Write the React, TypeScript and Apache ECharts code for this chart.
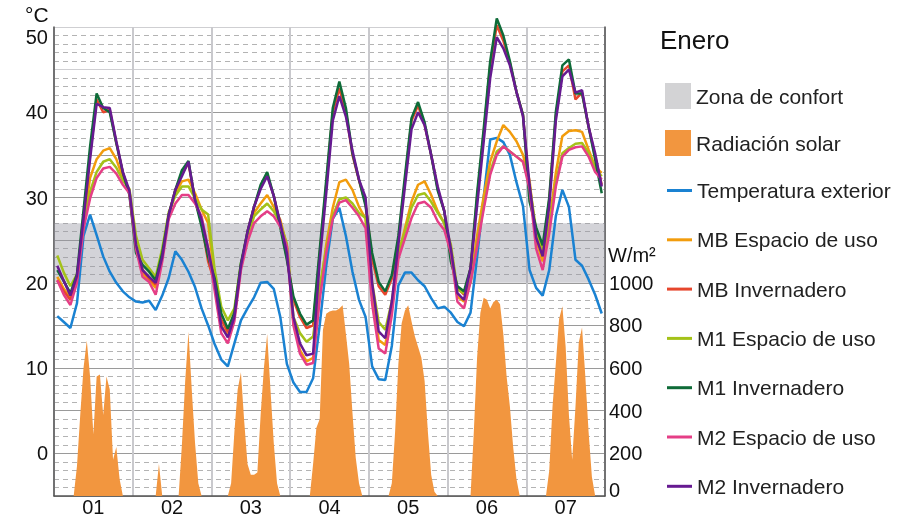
import React, { useEffect, useRef } from 'react';
import * as echarts from 'echarts';

const FONT = "'Liberation Sans', Arial, sans-serif";

const dayLabels = ['01', '02', '03', '04', '05', '06', '07'];
// sampling positions (hour of the week) of the temperature series: 1, 3, 5 ... 167
const sampleHours = Array.from({ length: 84 }, (_, i) => 1 + 2 * i);
// hourly positions of the solar radiation series: 0 ... 168
const radiationHours = Array.from({ length: 169 }, (_, i) => i);

const comfortMin = 20;
const comfortMax = 27;

const tempExterior = [
  16.1, 15.4, 14.7, 17.6, 25.5, 28.0, 25.6, 23.1, 21.3, 20.0, 19.0, 18.3,
  17.8, 17.7, 17.9, 16.8, 18.5, 20.6, 23.7, 22.7, 21.3, 19.5, 17.0, 15.0,
  12.8, 11.0, 10.2, 12.9, 15.6, 17.0, 18.3, 20.0, 20.1, 19.3, 16.0, 10.5,
  8.3, 7.2, 7.2, 8.8, 15.0, 22.0, 27.5, 28.8, 25.5, 21.3, 18.0, 16.0,
  10.2, 8.7, 8.6, 12.6, 19.7, 21.2, 21.2, 20.3, 19.6, 18.2, 17.0, 17.2,
  16.5, 15.4, 14.9, 16.5, 23.0, 30.0, 36.8, 37.0, 36.5, 35.0, 31.8, 29.0,
  21.5, 19.4, 18.5, 21.5, 27.8, 30.9, 28.9, 22.7, 22.0, 20.4, 18.6, 16.4,
];

const mbEspacio = [
  20.7, 19.3, 18.3, 20.5, 27.0, 32.3, 34.5, 35.5, 35.8, 34.5, 32.3, 30.8,
  24.2, 21.1, 20.3, 19.4, 23.3, 28.0, 30.5, 31.9, 32.1, 30.5, 28.6, 27.0,
  20.5, 15.0, 13.8, 16.0, 22.0, 25.6, 28.2, 29.3, 30.3, 28.9, 27.4, 24.3,
  15.3, 12.1, 10.8, 11.2, 18.5, 24.5, 28.8, 31.8, 32.1, 30.9, 28.9, 27.5,
  18.5, 13.3, 12.7, 17.0, 23.3, 26.4, 29.5, 31.5, 31.9, 30.3, 28.4, 27.0,
  23.5, 18.4, 17.8, 20.1, 25.5, 30.1, 34.2, 36.6, 38.5, 37.7, 36.6, 35.0,
  32.0, 25.0, 22.5, 27.0, 32.9, 37.2, 37.8, 37.9, 37.7, 35.6, 33.6, 32.9,
];

const mbInvernadero = [
  20.3, 19.0, 18.0, 20.5, 27.8, 35.0, 41.5, 40.0, 40.3, 36.4, 32.9, 30.5,
  24.0, 21.5, 20.5, 19.8, 23.2, 28.0, 30.9, 32.8, 34.0, 29.7, 27.0, 22.5,
  20.0, 15.7, 14.2, 16.3, 22.0, 26.0, 28.9, 31.2, 32.7, 30.2, 26.8, 23.0,
  18.0, 16.0, 14.7, 15.0, 23.3, 31.5, 40.0, 42.8, 40.0, 35.0, 32.0, 29.3,
  22.8, 19.6, 18.6, 20.5, 25.0, 32.0, 39.0, 40.8, 38.5, 35.0, 31.0, 28.4,
  23.0, 19.4, 18.6, 21.7, 30.0, 37.5, 45.5, 50.2, 48.4, 45.8, 42.4, 39.7,
  30.5, 25.5, 23.5, 29.7, 39.5, 44.8, 45.5, 41.5, 42.3, 38.3, 34.8, 31.5,
];

const m1Espacio = [
  23.2, 21.2, 19.6, 21.0, 26.6, 30.7, 33.0, 34.2, 34.5, 33.5, 32.0, 31.0,
  25.5, 22.7, 21.7, 20.7, 24.0, 28.3, 30.2, 31.3, 31.3, 29.9, 28.6, 28.0,
  21.5, 17.2, 15.6, 17.0, 22.3, 25.3, 27.8, 28.6, 29.3, 28.4, 27.0, 24.6,
  16.0, 14.1, 13.1, 13.7, 19.5, 24.0, 27.8, 29.8, 30.0, 29.3, 28.2, 27.6,
  20.0, 15.4, 14.5, 17.8, 23.5, 26.0, 28.8, 30.3, 30.5, 29.5, 28.2, 27.0,
  24.5, 19.2, 18.8, 20.1, 24.5, 29.0, 33.0, 35.4, 36.0, 35.4, 34.8, 34.2,
  31.5, 26.2, 23.9, 26.5, 31.7, 35.2, 35.8, 36.3, 36.4, 35.2, 33.4, 32.5,
];

const m1Invernadero = [
  21.5, 20.2, 18.8, 21.0, 28.5, 36.0, 42.2, 40.5, 40.0, 36.4, 32.9, 30.3,
  23.5, 22.1, 21.3, 20.3, 23.5, 28.0, 30.9, 33.2, 34.3, 29.7, 26.6, 23.0,
  20.5, 16.4, 14.6, 16.5, 22.3, 26.0, 28.9, 31.5, 33.0, 30.2, 26.5, 22.7,
  18.4, 16.4, 15.1, 15.6, 23.8, 32.0, 40.5, 43.6, 40.5, 35.2, 32.1, 29.0,
  23.5, 20.1, 19.0, 20.9, 25.5, 32.5, 39.3, 41.2, 38.8, 35.0, 30.8, 28.4,
  22.5, 19.6, 19.0, 21.7, 30.5, 38.0, 46.0, 51.0, 49.0, 46.0, 42.4, 39.7,
  29.5, 26.5, 24.4, 30.0, 40.0, 45.5, 46.2, 42.2, 42.2, 38.3, 34.5, 30.5,
];

const m2Espacio = [
  20.3, 18.6, 17.4, 20.0, 26.3, 29.9, 32.3, 33.4, 33.6, 32.8, 31.5, 30.5,
  24.0, 20.7, 20.1, 18.6, 22.5, 27.5, 29.3, 30.3, 30.3, 29.3, 27.8, 24.0,
  19.0, 14.1, 12.9, 15.5, 21.5, 24.8, 27.0, 27.8, 28.4, 27.8, 26.6, 24.3,
  15.0, 11.7, 10.4, 10.6, 18.0, 23.5, 27.5, 29.4, 29.7, 28.8, 27.8, 26.4,
  17.5, 12.3, 11.7, 16.2, 22.8, 25.2, 27.6, 29.3, 29.5, 28.8, 27.2, 26.2,
  23.5, 17.8, 17.0, 20.1, 24.2, 28.6, 32.7, 35.0, 36.0, 35.4, 34.8, 34.2,
  31.0, 24.0, 21.5, 25.8, 31.3, 34.8, 35.6, 35.9, 36.0, 34.8, 33.0, 32.1,
];

const m2Invernadero = [
  22.0, 20.2, 18.5, 20.8, 27.5, 34.5, 41.0, 40.6, 40.5, 36.6, 33.0, 30.8,
  24.5, 21.5, 20.7, 20.0, 23.0, 28.0, 30.9, 32.5, 34.2, 29.7, 27.4, 24.0,
  20.0, 14.9, 13.6, 16.0, 22.0, 26.0, 28.9, 31.0, 32.5, 30.2, 27.0, 23.5,
  16.0, 12.9, 11.5, 11.7, 22.5, 30.5, 39.0, 41.9, 39.5, 35.5, 32.1, 30.0,
  20.0, 14.3, 13.5, 17.8, 24.5, 31.3, 38.0, 40.0, 38.5, 35.0, 31.3, 28.4,
  24.0, 18.8, 18.0, 21.7, 29.0, 36.5, 44.0, 48.8, 47.5, 45.5, 42.4, 39.5,
  31.5, 25.3, 23.1, 29.0, 39.0, 44.2, 45.0, 42.3, 42.6, 38.3, 35.2, 31.3,
];

// W/m², hourly, hour 0 ... 168
const radiacionSolar = [
  0, 0, 0, 0, 0, 0, 0, 140, 380, 600, 730, 560, 290, 560, 570, 380, 560, 500, 170, 230, 80, 0, 0, 0,
  0, 0, 0, 0, 0, 0, 0, 0, 150, 0, 0, 0, 0, 0, 0, 240, 540, 770, 500, 250, 60, 0, 0, 0,
  0, 0, 0, 0, 0, 0, 60, 300, 500, 580, 350, 150, 100, 100, 110, 380, 600, 760, 500, 250, 60, 0, 0, 0,
  0, 0, 0, 0, 0, 0, 0, 150, 320, 360, 780, 855, 865, 870, 870, 880, 895, 760, 620, 390, 180, 60, 0, 0,
  0, 0, 0, 0, 0, 0, 0, 60, 300, 620, 810, 870, 895, 820, 750, 700, 650, 540, 300, 100, 20, 0, 0, 0,
  0, 0, 0, 0, 0, 0, 0, 0, 300, 650, 860, 930, 920, 880, 910, 920, 900, 760, 560, 420, 230, 80, 0, 0,
  0, 0, 0, 0, 0, 0, 0, 120, 420, 620, 830, 890, 700, 380, 170, 420, 720, 790, 560, 300, 90, 0, 0, 0, 0,
];

const lineDefs = [
  { name: 'Temperatura exterior', color: '#1a82d2', values: tempExterior },
  { name: 'MB Espacio de uso', color: '#f29c0c', values: mbEspacio },
  { name: 'MB Invernadero', color: '#e6462d', values: mbInvernadero },
  { name: 'M1 Espacio de uso', color: '#a4c218', values: m1Espacio },
  { name: 'M1 Invernadero', color: '#0e6b38', values: m1Invernadero },
  { name: 'M2 Espacio de uso', color: '#e53e86', values: m2Espacio },
  { name: 'M2 Invernadero', color: '#661a91', values: m2Invernadero },
];

export default function App() {
  const ref = useRef<HTMLDivElement>(null);

  useEffect(() => {
    const chart = echarts.init(ref.current!, null, { renderer: 'svg' });

    const lines = lineDefs.map((d) => ({
      name: d.name,
      type: 'line',
      data: d.values.map((v, i) => [sampleHours[i], v]),
      showSymbol: false,
      symbol: 'none',
      clip: false,
      color: d.color,
      lineStyle: { color: d.color, width: 2.5 },
      xAxisIndex: 0,
      yAxisIndex: 0,
      z: 4,
    }));

    const splitColors = ['#9a9a9a', '#9a9a9a', '#9a9a9a', '#9a9a9a', '#9a9a9a', '#9a9a9a', '#9a9a9a', '#9a9a9a', '#9a9a9a', '#9a9a9a', '#cfcfd2', '#cfcfd2'];

    chart.setOption({
      animation: false,
      textStyle: { fontFamily: FONT },
      title: {
        text: 'Enero',
        left: 655,
        top: 22,
        textStyle: { fontSize: 26, fontWeight: 'normal', color: '#111', fontFamily: FONT },
      },
      grid: { left: 54, right: 298, top: 27, bottom: 26, containLabel: false },
      legend: [
        {
          data: ['Zona de confort', 'Radiación solar'],
          orient: 'vertical',
          left: 660,
          top: 78,
          icon: 'rect',
          itemWidth: 26,
          itemHeight: 26,
          itemGap: 21,
          selectedMode: false,
          textStyle: { fontSize: 21, color: '#222', fontFamily: FONT },
        },
        {
          data: lineDefs.map((d) => d.name),
          orient: 'vertical',
          left: 662,
          top: 175,
          icon: 'rect',
          itemWidth: 25,
          itemHeight: 3,
          itemGap: 28.3,
          selectedMode: false,
          textStyle: { fontSize: 21, color: '#222', fontFamily: FONT },
        },
      ],
      xAxis: [
        {
          type: 'value',
          min: 0,
          max: 168,
          interval: 24,
          position: 'bottom',
          axisLine: { show: true, onZero: false, lineStyle: { color: '#555', width: 1.5 } },
          axisTick: { show: false },
          axisLabel: { show: false },
          splitLine: { show: true, lineStyle: { color: '#c9c9cd', width: 2 } },
        },
        {
          type: 'category',
          data: dayLabels,
          position: 'bottom',
          boundaryGap: true,
          axisLine: { show: false, onZero: false },
          axisTick: { show: false },
          splitLine: { show: false },
          axisLabel: { fontSize: 20, color: '#111', margin: 1, fontFamily: FONT },
        },
      ],
      yAxis: [
        {
          type: 'value',
          min: -5,
          max: 50,
          interval: 5,
          position: 'left',
          axisLine: { show: true, onZero: false, lineStyle: { color: '#555', width: 1.5 } },
          axisTick: { show: false },
          axisLabel: {
            margin: 6,
            fontSize: 20,
            color: '#111',
            fontFamily: FONT,
            formatter: (v: number) => (v < 50 && v % 10 === 0 ? String(v) : ''),
          },
          splitLine: { show: true, lineStyle: { color: splitColors, width: 1 } },
          minorTick: { show: false, splitNumber: 5 },
          minorSplitLine: { show: true, lineStyle: { color: '#b3b3b3', width: 1, type: [5, 4] } },
        },
        {
          type: 'value',
          min: 0,
          max: 2200,
          interval: 200,
          position: 'right',
          axisLine: { show: true, onZero: false, lineStyle: { color: '#555', width: 1.5 } },
          axisTick: { show: false },
          splitLine: { show: false },
          axisLabel: {
            margin: 4,
            fontSize: 20,
            color: '#111',
            fontFamily: FONT,
            formatter: (v: number) => (v === 0 ? '{bot|0}' : v <= 1000 ? String(v) : ''),
            rich: { bot: { fontSize: 20, color: '#111', fontFamily: FONT, padding: [0, 0, 12, 0] } },
          },
        },
      ],
      graphic: [
        {
          type: 'text',
          left: 25,
          top: 4,
          style: { text: '°C', fontSize: 21, fill: '#111', fontFamily: FONT },
        },
        {
          type: 'text',
          x: 48,
          y: 37,
          style: { text: '50', fontSize: 20, fill: '#111', fontFamily: FONT, align: 'right', verticalAlign: 'middle' },
        },
        {
          type: 'text',
          left: 608,
          top: 245,
          style: { text: 'W/m²', fontSize: 20, fill: '#111', fontFamily: FONT },
        },
      ],
      series: [
        {
          name: 'Zona de confort',
          type: 'line',
          data: [],
          color: '#d3d3d5',
          xAxisIndex: 0,
          yAxisIndex: 0,
          z: 1,
          markArea: {
            silent: true,
            itemStyle: { color: 'rgba(150,150,162,0.42)' },
            data: [[{ xAxis: 0, yAxis: comfortMin }, { xAxis: 168, yAxis: comfortMax }]],
          },
        },
        {
          name: 'Radiación solar',
          type: 'line',
          data: radiacionSolar.map((v, i) => [radiationHours[i], v]),
          xAxisIndex: 0,
          yAxisIndex: 1,
          showSymbol: false,
          symbol: 'none',
          color: '#f2963f',
          lineStyle: { width: 0, color: '#f2963f' },
          areaStyle: { color: '#f2963f', opacity: 1 },
          z: 2,
        },
        ...lines,
      ],
    });

    return () => chart.dispose();
  }, []);

  return <div ref={ref} style={{ position: 'fixed', left: 0, top: 0, width: 903, height: 522 }} />;
}
